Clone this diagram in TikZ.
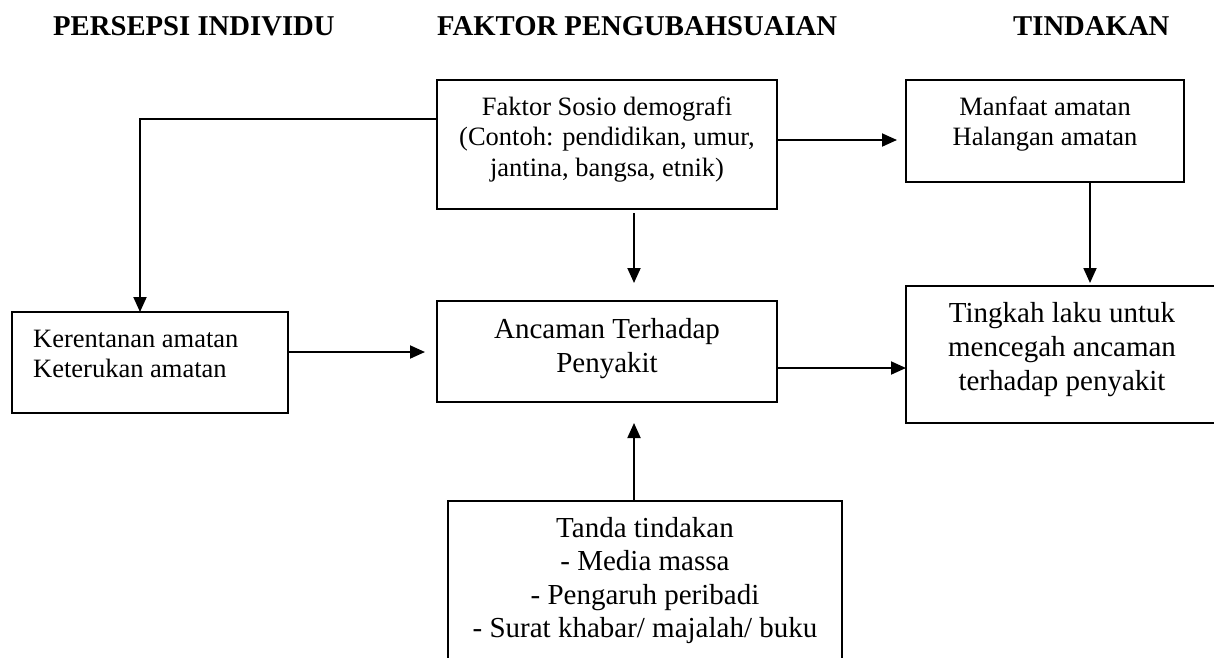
\documentclass[tikz,border=0pt]{standalone}
\usepackage{fontspec}
\setmainfont{Liberation Serif}
\usetikzlibrary{arrows.meta,calc}
\tikzset{
  box/.style={draw, line width=1.9pt, inner sep=0pt, outer sep=0pt, rectangle},
  small/.style={font=\fontsize{26.5}{30.5}\selectfont, inner sep=0pt, align=center},
  big/.style={font=\fontsize{29}{34}\selectfont, inner sep=0pt, align=center},
  head/.style={font=\fontsize{28.7}{33}\selectfont\bfseries, inner sep=0pt, anchor=base west},
  conn/.style={line width=1.9pt, -{Triangle[length=15pt,width=13pt]}},
}
\begin{document}
\begin{tikzpicture}[x=1pt,y=-1pt]
\useasboundingbox (0,0) rectangle (1214,657);
\clip (0,0) rectangle (1214,657);
% headers
\node[head] (h1) at (53,35) {PERSEPSI INDIVIDU};
\node[head] (h2) at (437,35) {FAKTOR PENGUBAHSUAIAN};
\node[head] (h3) at (1013,35) {TINDAKAN};
% boxes
\node[box, minimum width=340pt, minimum height=129pt] (sosio) at (607,144.5) {};
\node[box, minimum width=278pt, minimum height=102pt] (manfaat) at (1045,131) {};
\node[box, minimum width=276pt, minimum height=101pt] (keren) at (150,362.5) {};
\node[box, minimum width=340pt, minimum height=101pt] (ancaman) at (607,351.5) {};
\node[box, minimum width=324pt, minimum height=137pt] (tingkah) at (1068,354.5) {};
\node[box, minimum width=394pt, minimum height=200pt] (tanda) at (645,601) {};
% texts (anchor = baseline of last line)
\node[small, anchor=base] (tsosio) at (607,176) {Faktor Sosio demografi\\(Contoh: pendidikan, umur,\\jantina, bangsa, etnik)};
\node[small, anchor=base] (tmanfaat) at (1045,145.5) {Manfaat amatan\\Halangan amatan};
\node[small, anchor=base west, align=left] (tkeren) at (33,377.5) {Kerentanan amatan\\Keterukan amatan};
\node[big, anchor=base] (tancaman) at (607,372) {Ancaman Terhadap\\Penyakit};
\node[big, anchor=base] (ttingkah) at (1062,390) {Tingkah laku untuk\\mencegah ancaman\\terhadap penyakit};
\node[big, anchor=base, font=\fontsize{29}{33.5}\selectfont] (ttanda) at (645,637.5) {Tanda tindakan\\- Media massa\\- Pengaruh peribadi\\- Surat khabar/ majalah/ buku};
% connector helper coordinates
\coordinate (c1) at (140,119);
\coordinate (c2) at (634,0);
\coordinate (c3) at (1090,0);
% connectors
\draw[conn] (sosio.west |- c1) -- (c1) -- (c1 |- keren.north);
\draw[conn, shorten >=9pt] (sosio.east |- 0,140) -- (manfaat.west |- 0,140);
\draw[conn, shorten <=4pt, shorten >=18pt] (sosio.south -| c2) -- (ancaman.north -| c2);
\draw[conn, shorten >=3pt] (manfaat.south -| c3) -- (tingkah.north -| c3);
\draw[conn, shorten >=12pt] (keren.east |- 0,352) -- (ancaman.west |- 0,352);
\draw[conn] (ancaman.east |- 0,368) -- (tingkah.west |- 0,368);
\draw[conn, shorten >=21pt] (tanda.north -| c2) -- (ancaman.south -| c2);
\end{tikzpicture}
\end{document}
